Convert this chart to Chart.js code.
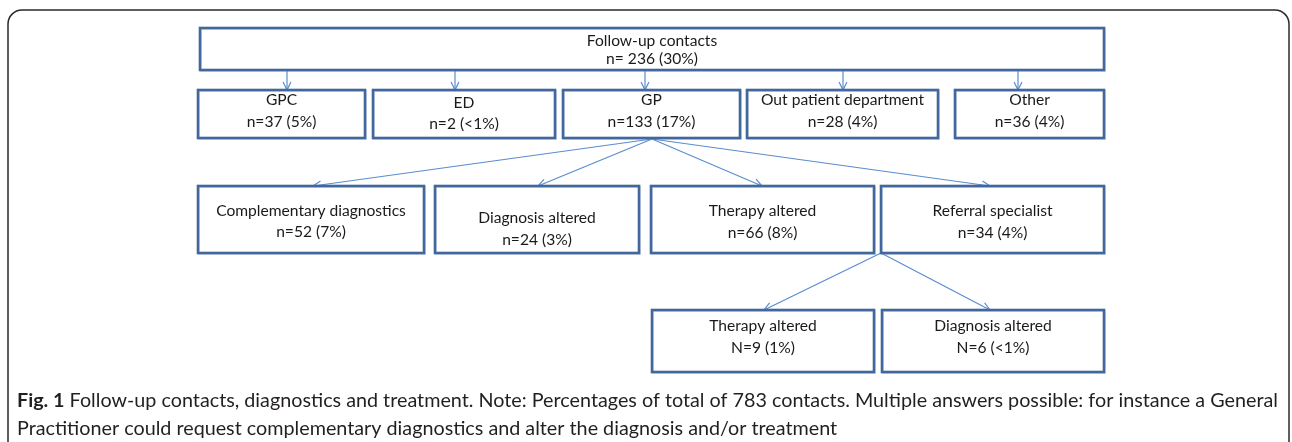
<!DOCTYPE html>
<html>
<head>
<meta charset="utf-8">
<script src="https://cdn.jsdelivr.net/npm/chart.js@4"></script>
<style>
  html, body { margin: 0; padding: 0; background: #fff; }
  canvas { display: block; }
</style>
</head>
<body>
<canvas id="flowChart" width="1292" height="442"></canvas>
<script>
// node data
const nodeNames = ['Follow-up contacts', 'GPC', 'ED', 'GP', 'Out patient department', 'Other',
    'Complementary diagnostics', 'Diagnosis altered', 'Therapy altered', 'Referral specialist',
    'Therapy altered', 'Diagnosis altered'];
const nodePrefix = ['n= ', 'n=', 'n=', 'n=', 'n=', 'n=', 'n=', 'n=', 'n=', 'n=', 'N=', 'N='];
const nodeCounts = [236, 37, 2, 133, 28, 36, 52, 24, 66, 34, 9, 6];
const nodeShares = ['30%', '5%', '<1%', '17%', '4%', '4%', '7%', '3%', '8%', '4%', '1%', '<1%'];
// edges: [from, to]
const edgeFrom = [0, 0, 0, 0, 0, 3, 3, 3, 3, 9, 9];
const edgeTo = [1, 2, 3, 4, 5, 6, 7, 8, 9, 10, 11];
const captionLabel = 'Fig. 1';
const captionLines = [
    ' Follow-up contacts, diagnostics and treatment. Note: Percentages of total of 783 contacts. Multiple answers possible: for instance a General',
    'Practitioner could request complementary diagnostics and alter the diagnosis and/or treatment'
];

// layout (axis units) - kept apart from the data
const boxes = [
    [200, 28, 1104, 70],
    [198, 90, 365, 138], [373, 90, 555, 138], [563, 90, 740, 138], [747, 90, 938, 138], [955, 90, 1104, 138],
    [198, 186, 424, 253], [435, 186, 639, 253], [651, 186, 874, 253], [881, 186, 1104, 253],
    [652, 310, 874, 372], [882, 310, 1104, 372]
];
const textRows = [
    [41, 59],
    [100, 122], [103, 124], [100, 122], [100, 122], [100, 122],
    [211, 232], [218, 240], [211, 233], [211, 233],
    [326, 348], [326, 348]
];
const edgeStart = [[287, 70], [455, 70], [645, 70], [843, 70], [1018, 70],
    [652, 139], [652, 139], [652, 139], [652, 139], [881, 253], [881, 253]];
const edgeEndX = [287, 455, 645, 843, 1018, 313, 538, 762, 990, 764, 990];

const BOX_COLOR = '#41679d';
const LINE_COLOR = '#5b8dcf';
const FONT = '"Lato", "Open Sans", sans-serif';

const edgeDatasets = edgeFrom.map((from, i) => {
    const to = edgeTo[i];
    return {
        type: 'line',
        data: [
            { x: edgeStart[i][0], y: edgeStart[i][1] },
            { x: edgeEndX[i], y: boxes[to][1] }
        ],
        borderColor: LINE_COLOR,
        borderWidth: 1.2,
        pointRadius: 0,
        showLine: true,
        fill: false
    };
});

const flowPlugin = {
    id: 'flow',
    beforeDraw(chart) {
        const c = chart.ctx;
        c.save();
        c.fillStyle = '#fff';
        c.fillRect(0, 0, chart.width, chart.height);
        // outer frame
        const sx = chart.scales.x, sy = chart.scales.y;
        const l = sx.getPixelForValue(8), r = sx.getPixelForValue(1289), t = sy.getPixelForValue(10), b = sy.getPixelForValue(460);
        c.strokeStyle = '#2a2a2a';
        c.lineWidth = 1.5;
        c.beginPath();
        c.roundRect(l, t, r - l, b - t, 14);
        c.stroke();
        c.restore();
    },
    afterDatasetsDraw(chart) {
        const c = chart.ctx;
        const sx = chart.scales.x, sy = chart.scales.y;
        c.save();
        // arrow heads
        c.strokeStyle = LINE_COLOR;
        c.lineWidth = 1.2;
        edgeTo.forEach((to, i) => {
            const x0 = sx.getPixelForValue(edgeStart[i][0]), y0 = sy.getPixelForValue(edgeStart[i][1]);
            const x1 = sx.getPixelForValue(edgeEndX[i]), y1 = sy.getPixelForValue(boxes[to][1]);
            const a = Math.atan2(y1 - y0, x1 - x0);
            const len = 9, spread = 0.45;
            c.beginPath();
            c.moveTo(x1 - len * Math.cos(a - spread), y1 - len * Math.sin(a - spread));
            c.lineTo(x1, y1);
            c.lineTo(x1 - len * Math.cos(a + spread), y1 - len * Math.sin(a + spread));
            c.stroke();
        });
        // boxes
        boxes.forEach((bx, i) => {
            const x0 = sx.getPixelForValue(bx[0]), x1 = sx.getPixelForValue(bx[2]);
            const y0 = sy.getPixelForValue(bx[1]), y1 = sy.getPixelForValue(bx[3]);
            c.fillStyle = '#fff';
            c.fillRect(x0, y0, x1 - x0, y1 - y0);
            c.strokeStyle = 'rgba(120,150,190,0.35)';
            c.lineWidth = 2;
            c.strokeRect(x0 + 1, y0 + 1, x1 - x0, y1 - y0);
            c.strokeStyle = BOX_COLOR;
            c.lineWidth = 2.6;
            c.strokeRect(x0, y0, x1 - x0, y1 - y0);
            // text
            const cx = (x0 + x1) / 2;
            c.fillStyle = '#1a1a1a';
            c.font = '15.6px ' + FONT;
            c.textAlign = 'center';
            c.textBaseline = 'middle';
            c.fillText(nodeNames[i], cx, sy.getPixelForValue(textRows[i][0]));
            c.fillText(nodePrefix[i] + nodeCounts[i] + ' (' + nodeShares[i] + ')', cx, sy.getPixelForValue(textRows[i][1]));
        });
        // caption, sized so the first line spans the frame width
        c.textAlign = 'left';
        c.textBaseline = 'middle';
        c.fillStyle = '#231f20';
        const capX = sx.getPixelForValue(17);
        const target = sx.getPixelForValue(1278) - capX;
        c.font = 'bold 18px ' + FONT;
        let w = c.measureText(captionLabel).width;
        c.font = '18px ' + FONT;
        w += c.measureText(captionLines[0]).width;
        const size = 18 * target / w;
        c.font = 'bold ' + size.toFixed(2) + 'px ' + FONT;
        c.fillText(captionLabel, capX, sy.getPixelForValue(401));
        const lw = c.measureText(captionLabel).width;
        c.font = size.toFixed(2) + 'px ' + FONT;
        c.fillText(captionLines[0], capX + lw, sy.getPixelForValue(401));
        c.fillText(captionLines[1], capX, sy.getPixelForValue(429));
        c.restore();
    }
};

new Chart(document.getElementById('flowChart').getContext('2d'), {
    type: 'scatter',
    data: { datasets: edgeDatasets },
    options: {
        responsive: false,
        animation: false,
        devicePixelRatio: 1,
        layout: { padding: 0 },
        plugins: { legend: { display: false }, tooltip: { enabled: false } },
        scales: {
            x: { type: 'linear', min: 0, max: 1292, display: false },
            y: { type: 'linear', min: 0, max: 442, reverse: true, display: false }
        }
    },
    plugins: [flowPlugin]
});
</script>
</body>
</html>
